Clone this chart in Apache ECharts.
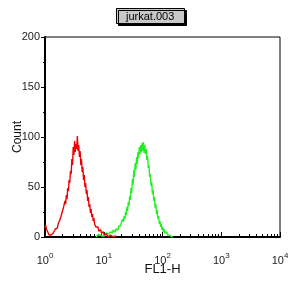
<!DOCTYPE html>
<html>
<head>
<meta charset="utf-8">
<script src="https://cdn.jsdelivr.net/npm/echarts@6/dist/echarts.min.js"></script>
<style>
  html, body { margin: 0; padding: 0; background: #fff; }
  #chart { width: 288px; height: 288px; }
</style>
</head>
<body>
<div id="chart"></div>
<script>
(function() {
    'use strict';
    // 直方图数据: 通道 0..1024 (每 256 通道一个数量级)
    var decadeLabels = ['0', '1', '2', '3', '4'];
    var yTicks = [0, 50, 100, 150, 200];

    var binWidth = 3;
    var redStart = 0;
    var redCounts = [
        9, 12, 8, 10, 5, 4, 2, 3, 1, 2, 3, 1, 4, 6, 5, 8, 7, 10, 9, 13,
        12, 16, 15, 20, 19, 25, 23, 30, 28, 36, 33, 42, 38, 49, 46, 57, 54, 66, 63, 78,
        72, 90, 82, 96, 85, 93, 88, 101, 86, 92, 80, 86, 72, 78, 65, 70, 57, 62, 50, 54,
        43, 47, 36, 40, 30, 33, 24, 28, 20, 23, 16, 19, 13, 15, 10, 12, 8, 10, 6, 8,
        5, 7, 4, 6, 3, 5, 2, 4, 1, 3, 1, 3, 0, 2, 1, 2, 0, 1, 1, 0,
        1, 0, 1, 0, 0
    ];
    var greenStart = 222;
    var greenCounts = [
        0, 1, 0, 2, 1, 0, 2, 1, 3, 1, 2, 3, 1, 3, 2, 4, 2, 4, 3, 5,
        3, 5, 4, 6, 4, 7, 5, 7, 5, 8, 6, 9, 7, 11, 9, 13, 11, 15, 13, 18,
        15, 21, 18, 25, 22, 30, 26, 35, 31, 41, 37, 49, 44, 58, 52, 67, 60, 74, 67, 80,
        73, 85, 79, 90, 83, 92, 85, 94, 86, 95, 84, 92, 83, 88, 77, 81, 69, 72, 60, 63,
        51, 55, 43, 47, 36, 40, 29, 33, 23, 27, 18, 21, 13, 16, 10, 13, 7, 10, 5, 8,
        4, 6, 3, 5, 2, 3, 1, 2, 1, 1, 0, 1, 0
    ];

    function toPairs(start, counts) {
        var out = [];
        for (var i = 0; i < counts.length; i++) {
            out.push([start + i * binWidth, counts[i]]);
        }
        return out;
    }

    // 对数次刻度 (2..9 每个数量级)
    var minorTicks = [];
    for (var d = 0; d < 4; d++) {
        for (var k = 2; k <= 9; k++) {
            minorTicks.push(256 * (d + Math.log10(k)));
        }
    }

    var font = 'Liberation Sans';
    var myChart = echarts.init(document.getElementById('chart'));
    var option = {
        animation: false,
        backgroundColor: '#fff',
        title: {
            text: 'jurkat.003',
            left: 116,
            top: 8,
            padding: [3, 10, 2, 10],
            backgroundColor: '#c8c8c8',
            borderColor: '#000',
            borderWidth: 1,
            shadowColor: '#000',
            shadowOffsetX: 2,
            shadowOffsetY: 2,
            shadowBlur: 0,
            textStyle: { fontFamily: font, fontSize: 11, fontWeight: 'normal', color: '#000' }
        },
        grid: {
            left: 45, right: 8, top: 37, bottom: 51,
            containLabel: false,
            outerBoundsMode: 'none',
            show: true, borderColor: '#000', borderWidth: 1, backgroundColor: 'transparent'
        },
        xAxis: [{
            type: 'value',
            min: 0, max: 1024, interval: 256,
            name: 'FL1-H',
            nameLocation: 'middle',
            nameGap: 26,
            nameMoveOverlap: false,
            nameTextStyle: { fontFamily: font, fontSize: 13, color: '#111' },
            axisLine: { show: true, onZero: false, lineStyle: { color: '#000', width: 2 } },
            axisTick: { show: true, inside: true, length: 5, lineStyle: { color: '#000', width: 1 } },
            splitLine: { show: false },
            axisLabel: {
                margin: 15,
                formatter: function(val) {
                    return '{b|10}{s|' + decadeLabels[Math.round(val / 256)] + '}';
                },
                rich: {
                    b: { fontFamily: font, fontSize: 11, color: '#222' },
                    s: { fontFamily: font, fontSize: 8, color: '#222', padding: [0, 0, 9, 0] }
                }
            }
        }, {
            type: 'value',
            min: 0, max: 1024,
            position: 'bottom',
            axisLine: { show: false },
            axisLabel: { show: false },
            splitLine: { show: false },
            axisTick: {
                show: true, inside: true, length: 3,
                customValues: minorTicks,
                lineStyle: { color: '#000', width: 1 }
            }
        }],
        yAxis: {
            type: 'value',
            min: 0, max: 200, interval: 50,
            name: 'Count',
            nameLocation: 'middle',
            nameGap: 21,
            nameMoveOverlap: false,
            nameTextStyle: { fontFamily: font, fontSize: 12, color: '#111' },
            axisLine: { show: true, lineStyle: { color: '#000', width: 2 } },
            axisTick: { show: true, length: 4, lineStyle: { color: '#000', width: 1 } },
            minorTick: { show: true, splitNumber: 2, length: 2, lineStyle: { color: '#000' } },
            splitLine: { show: false },
            axisLabel: {
                margin: 5,
                fontFamily: font, fontSize: 11, color: '#222',
                customValues: yTicks
            }
        },
        series: [{
            type: 'line',
            data: toPairs(greenStart, greenCounts),
            showSymbol: false,
            lineStyle: { color: '#22f022', width: 1.4 },
            z: 2
        }, {
            type: 'line',
            data: toPairs(redStart, redCounts),
            showSymbol: false,
            lineStyle: { color: '#f00000', width: 1.4 },
            z: 3
        }]
    };
    myChart.setOption(option);
})();
</script>
</body>
</html>
